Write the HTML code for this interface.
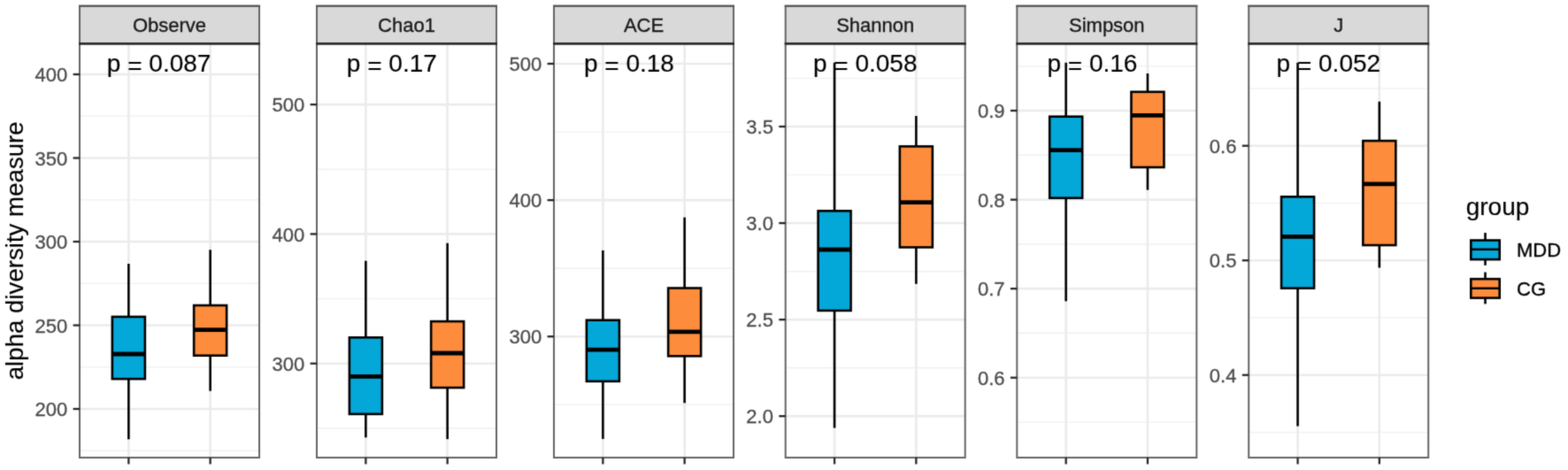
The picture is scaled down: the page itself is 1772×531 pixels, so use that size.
<!DOCTYPE html>
<html><head><meta charset="utf-8"><title>alpha diversity</title>
<style>
html,body{margin:0;padding:0;background:#fff;}
body{width:1772px;height:531px;overflow:hidden;}
svg{display:block;font-family:'Liberation Sans', Arial, Helvetica, sans-serif;}
</style></head>
<body>
<svg width="1772" height="531" viewBox="0 0 1772 531">
<rect x="0" y="0" width="1772" height="531" fill="#FFFFFF"/>
<defs><filter id="soft" x="0" y="0" width="1" height="1" filterUnits="objectBoundingBox" color-interpolation-filters="sRGB"><feConvolveMatrix order="3" kernelMatrix="0.02250 0.10500 0.02250 0.10500 0.49000 0.10500 0.02250 0.10500 0.02250" divisor="1" edgeMode="duplicate" preserveAlpha="true"/></filter></defs>
<g filter="url(#soft)">
<rect x="0" y="0" width="1772" height="531" fill="#FFFFFF"/>
<rect x="90" y="49.4" width="203" height="467.6" fill="#FFFFFF"/>
<line x1="90" y1="131.25" x2="293" y2="131.25" stroke="#F2F2F2" stroke-width="1.6"/>
<line x1="90" y1="225.75" x2="293" y2="225.75" stroke="#F2F2F2" stroke-width="1.6"/>
<line x1="90" y1="320.25" x2="293" y2="320.25" stroke="#F2F2F2" stroke-width="1.6"/>
<line x1="90" y1="414.75" x2="293" y2="414.75" stroke="#F2F2F2" stroke-width="1.6"/>
<line x1="90" y1="509.25" x2="293" y2="509.25" stroke="#F2F2F2" stroke-width="1.6"/>
<line x1="90" y1="84" x2="293" y2="84" stroke="#EBEBEB" stroke-width="2.6"/>
<line x1="90" y1="178.5" x2="293" y2="178.5" stroke="#EBEBEB" stroke-width="2.6"/>
<line x1="90" y1="273" x2="293" y2="273" stroke="#EBEBEB" stroke-width="2.6"/>
<line x1="90" y1="367.5" x2="293" y2="367.5" stroke="#EBEBEB" stroke-width="2.6"/>
<line x1="90" y1="462" x2="293" y2="462" stroke="#EBEBEB" stroke-width="2.6"/>
<line x1="145.36" y1="49.4" x2="145.36" y2="517" stroke="#EBEBEB" stroke-width="2.6"/>
<line x1="237.64" y1="49.4" x2="237.64" y2="517" stroke="#EBEBEB" stroke-width="2.6"/>
<line x1="145.36" y1="298" x2="145.36" y2="357.9" stroke="#000" stroke-width="2.6"/>
<line x1="145.36" y1="428.1" x2="145.36" y2="496.3" stroke="#000" stroke-width="2.6"/>
<rect x="126.86" y="357.9" width="37" height="70.2" fill="#03A8D9" stroke="#000" stroke-width="2.6"/>
<line x1="126.86" y1="400" x2="163.86" y2="400" stroke="#000" stroke-width="4.8"/>
<line x1="237.64" y1="282.2" x2="237.64" y2="345" stroke="#000" stroke-width="2.6"/>
<line x1="237.64" y1="401.7" x2="237.64" y2="441.7" stroke="#000" stroke-width="2.6"/>
<rect x="219.14" y="345" width="37" height="56.7" fill="#FD8D3C" stroke="#000" stroke-width="2.6"/>
<line x1="219.14" y1="372.7" x2="256.14" y2="372.7" stroke="#000" stroke-width="4.8"/>
<text x="120.85" y="81.1" font-size="28.0" fill="#000" stroke="#000" stroke-width="0.15">p <tspan dy="2.9">=</tspan><tspan dy="-2.9"> 0.087</tspan></text>
<rect x="90" y="6.8" width="203" height="42.6" fill="#D9D9D9"/>
<path d="M90 6.8 V517 H293 V6.8 Z" fill="none" stroke="#646464" stroke-width="2.0"/>
<line x1="89" y1="6.8" x2="294" y2="6.8" stroke="#555555" stroke-width="2"/>
<line x1="89" y1="49.4" x2="294" y2="49.4" stroke="#2B2B2B" stroke-width="2.6"/>
<text x="191.5" y="36.2" font-size="22" fill="#1A1A1A" stroke="#1A1A1A" stroke-width="0.35" text-anchor="middle">Observe</text>
<line x1="82.6" y1="84" x2="90" y2="84" stroke="#262626" stroke-width="2.3"/>
<text x="76.2" y="92.1" font-size="22" fill="#4D4D4D" stroke="#4D4D4D" stroke-width="0.35" text-anchor="end">400</text>
<line x1="82.6" y1="178.5" x2="90" y2="178.5" stroke="#262626" stroke-width="2.3"/>
<text x="76.2" y="186.6" font-size="22" fill="#4D4D4D" stroke="#4D4D4D" stroke-width="0.35" text-anchor="end">350</text>
<line x1="82.6" y1="273" x2="90" y2="273" stroke="#262626" stroke-width="2.3"/>
<text x="76.2" y="281.1" font-size="22" fill="#4D4D4D" stroke="#4D4D4D" stroke-width="0.35" text-anchor="end">300</text>
<line x1="82.6" y1="367.5" x2="90" y2="367.5" stroke="#262626" stroke-width="2.3"/>
<text x="76.2" y="375.6" font-size="22" fill="#4D4D4D" stroke="#4D4D4D" stroke-width="0.35" text-anchor="end">250</text>
<line x1="82.6" y1="462" x2="90" y2="462" stroke="#262626" stroke-width="2.3"/>
<text x="76.2" y="470.1" font-size="22" fill="#4D4D4D" stroke="#4D4D4D" stroke-width="0.35" text-anchor="end">200</text>
<line x1="145.36" y1="517" x2="145.36" y2="524.4" stroke="#262626" stroke-width="2.3"/>
<line x1="237.64" y1="517" x2="237.64" y2="524.4" stroke="#262626" stroke-width="2.3"/>
<rect x="358" y="49.4" width="203" height="467.6" fill="#FFFFFF"/>
<line x1="358" y1="191.25" x2="561" y2="191.25" stroke="#F2F2F2" stroke-width="1.6"/>
<line x1="358" y1="337.55" x2="561" y2="337.55" stroke="#F2F2F2" stroke-width="1.6"/>
<line x1="358" y1="483.85" x2="561" y2="483.85" stroke="#F2F2F2" stroke-width="1.6"/>
<line x1="358" y1="118.1" x2="561" y2="118.1" stroke="#EBEBEB" stroke-width="2.6"/>
<line x1="358" y1="264.4" x2="561" y2="264.4" stroke="#EBEBEB" stroke-width="2.6"/>
<line x1="358" y1="410.7" x2="561" y2="410.7" stroke="#EBEBEB" stroke-width="2.6"/>
<line x1="413.36" y1="49.4" x2="413.36" y2="517" stroke="#EBEBEB" stroke-width="2.6"/>
<line x1="505.64" y1="49.4" x2="505.64" y2="517" stroke="#EBEBEB" stroke-width="2.6"/>
<line x1="413.36" y1="294.7" x2="413.36" y2="381.3" stroke="#000" stroke-width="2.6"/>
<line x1="413.36" y1="467.8" x2="413.36" y2="494.3" stroke="#000" stroke-width="2.6"/>
<rect x="394.86" y="381.3" width="37" height="86.5" fill="#03A8D9" stroke="#000" stroke-width="2.6"/>
<line x1="394.86" y1="425.4" x2="431.86" y2="425.4" stroke="#000" stroke-width="4.8"/>
<line x1="505.64" y1="274.7" x2="505.64" y2="363.1" stroke="#000" stroke-width="2.6"/>
<line x1="505.64" y1="438" x2="505.64" y2="496.1" stroke="#000" stroke-width="2.6"/>
<rect x="487.14" y="363.1" width="37" height="74.9" fill="#FD8D3C" stroke="#000" stroke-width="2.6"/>
<line x1="487.14" y1="399" x2="524.14" y2="399" stroke="#000" stroke-width="4.8"/>
<text x="391.85" y="81.1" font-size="28.0" fill="#000" stroke="#000" stroke-width="0.15">p <tspan dy="2.9">=</tspan><tspan dy="-2.9"> 0.17</tspan></text>
<rect x="358" y="6.8" width="203" height="42.6" fill="#D9D9D9"/>
<path d="M358 6.8 V517 H561 V6.8 Z" fill="none" stroke="#646464" stroke-width="2.0"/>
<line x1="357" y1="6.8" x2="562" y2="6.8" stroke="#555555" stroke-width="2"/>
<line x1="357" y1="49.4" x2="562" y2="49.4" stroke="#2B2B2B" stroke-width="2.6"/>
<text x="459.5" y="36.2" font-size="22" fill="#1A1A1A" stroke="#1A1A1A" stroke-width="0.35" text-anchor="middle">Chao1</text>
<line x1="350.6" y1="118.1" x2="358" y2="118.1" stroke="#262626" stroke-width="2.3"/>
<text x="344.2" y="126.2" font-size="22" fill="#4D4D4D" stroke="#4D4D4D" stroke-width="0.35" text-anchor="end">500</text>
<line x1="350.6" y1="264.4" x2="358" y2="264.4" stroke="#262626" stroke-width="2.3"/>
<text x="344.2" y="272.5" font-size="22" fill="#4D4D4D" stroke="#4D4D4D" stroke-width="0.35" text-anchor="end">400</text>
<line x1="350.6" y1="410.7" x2="358" y2="410.7" stroke="#262626" stroke-width="2.3"/>
<text x="344.2" y="418.8" font-size="22" fill="#4D4D4D" stroke="#4D4D4D" stroke-width="0.35" text-anchor="end">300</text>
<line x1="413.36" y1="517" x2="413.36" y2="524.4" stroke="#262626" stroke-width="2.3"/>
<line x1="505.64" y1="517" x2="505.64" y2="524.4" stroke="#262626" stroke-width="2.3"/>
<rect x="626" y="49.4" width="203" height="467.6" fill="#FFFFFF"/>
<line x1="626" y1="149.05" x2="829" y2="149.05" stroke="#F2F2F2" stroke-width="1.6"/>
<line x1="626" y1="303.15" x2="829" y2="303.15" stroke="#F2F2F2" stroke-width="1.6"/>
<line x1="626" y1="457.25" x2="829" y2="457.25" stroke="#F2F2F2" stroke-width="1.6"/>
<line x1="626" y1="72" x2="829" y2="72" stroke="#EBEBEB" stroke-width="2.6"/>
<line x1="626" y1="226.1" x2="829" y2="226.1" stroke="#EBEBEB" stroke-width="2.6"/>
<line x1="626" y1="380.2" x2="829" y2="380.2" stroke="#EBEBEB" stroke-width="2.6"/>
<line x1="681.36" y1="49.4" x2="681.36" y2="517" stroke="#EBEBEB" stroke-width="2.6"/>
<line x1="773.64" y1="49.4" x2="773.64" y2="517" stroke="#EBEBEB" stroke-width="2.6"/>
<line x1="681.36" y1="282.9" x2="681.36" y2="361.7" stroke="#000" stroke-width="2.6"/>
<line x1="681.36" y1="430.8" x2="681.36" y2="495.9" stroke="#000" stroke-width="2.6"/>
<rect x="662.86" y="361.7" width="37" height="69.1" fill="#03A8D9" stroke="#000" stroke-width="2.6"/>
<line x1="662.86" y1="395.2" x2="699.86" y2="395.2" stroke="#000" stroke-width="4.8"/>
<line x1="773.64" y1="245.6" x2="773.64" y2="325.5" stroke="#000" stroke-width="2.6"/>
<line x1="773.64" y1="402.3" x2="773.64" y2="455.3" stroke="#000" stroke-width="2.6"/>
<rect x="755.14" y="325.5" width="37" height="76.8" fill="#FD8D3C" stroke="#000" stroke-width="2.6"/>
<line x1="755.14" y1="374.8" x2="792.14" y2="374.8" stroke="#000" stroke-width="4.8"/>
<text x="659.95" y="81.1" font-size="28.0" fill="#000" stroke="#000" stroke-width="0.15">p <tspan dy="2.9">=</tspan><tspan dy="-2.9"> 0.18</tspan></text>
<rect x="626" y="6.8" width="203" height="42.6" fill="#D9D9D9"/>
<path d="M626 6.8 V517 H829 V6.8 Z" fill="none" stroke="#646464" stroke-width="2.0"/>
<line x1="625" y1="6.8" x2="830" y2="6.8" stroke="#555555" stroke-width="2"/>
<line x1="625" y1="49.4" x2="830" y2="49.4" stroke="#2B2B2B" stroke-width="2.6"/>
<text x="727.5" y="36.2" font-size="22" fill="#1A1A1A" stroke="#1A1A1A" stroke-width="0.35" text-anchor="middle">ACE</text>
<line x1="618.6" y1="72" x2="626" y2="72" stroke="#262626" stroke-width="2.3"/>
<text x="612.2" y="80.1" font-size="22" fill="#4D4D4D" stroke="#4D4D4D" stroke-width="0.35" text-anchor="end">500</text>
<line x1="618.6" y1="226.1" x2="626" y2="226.1" stroke="#262626" stroke-width="2.3"/>
<text x="612.2" y="234.2" font-size="22" fill="#4D4D4D" stroke="#4D4D4D" stroke-width="0.35" text-anchor="end">400</text>
<line x1="618.6" y1="380.2" x2="626" y2="380.2" stroke="#262626" stroke-width="2.3"/>
<text x="612.2" y="388.3" font-size="22" fill="#4D4D4D" stroke="#4D4D4D" stroke-width="0.35" text-anchor="end">300</text>
<line x1="681.36" y1="517" x2="681.36" y2="524.4" stroke="#262626" stroke-width="2.3"/>
<line x1="773.64" y1="517" x2="773.64" y2="524.4" stroke="#262626" stroke-width="2.3"/>
<rect x="887.7" y="49.4" width="203" height="467.6" fill="#FFFFFF"/>
<line x1="887.7" y1="88.5" x2="1090.7" y2="88.5" stroke="#F2F2F2" stroke-width="1.6"/>
<line x1="887.7" y1="197.5" x2="1090.7" y2="197.5" stroke="#F2F2F2" stroke-width="1.6"/>
<line x1="887.7" y1="306.6" x2="1090.7" y2="306.6" stroke="#F2F2F2" stroke-width="1.6"/>
<line x1="887.7" y1="415.6" x2="1090.7" y2="415.6" stroke="#F2F2F2" stroke-width="1.6"/>
<line x1="887.7" y1="143" x2="1090.7" y2="143" stroke="#EBEBEB" stroke-width="2.6"/>
<line x1="887.7" y1="252.05" x2="1090.7" y2="252.05" stroke="#EBEBEB" stroke-width="2.6"/>
<line x1="887.7" y1="361.1" x2="1090.7" y2="361.1" stroke="#EBEBEB" stroke-width="2.6"/>
<line x1="887.7" y1="470.15" x2="1090.7" y2="470.15" stroke="#EBEBEB" stroke-width="2.6"/>
<line x1="943.06" y1="49.4" x2="943.06" y2="517" stroke="#EBEBEB" stroke-width="2.6"/>
<line x1="1035.34" y1="49.4" x2="1035.34" y2="517" stroke="#EBEBEB" stroke-width="2.6"/>
<line x1="943.06" y1="70.8" x2="943.06" y2="238.3" stroke="#000" stroke-width="2.6"/>
<line x1="943.06" y1="350.9" x2="943.06" y2="483.5" stroke="#000" stroke-width="2.6"/>
<rect x="924.56" y="238.3" width="37" height="112.6" fill="#03A8D9" stroke="#000" stroke-width="2.6"/>
<line x1="924.56" y1="282" x2="961.56" y2="282" stroke="#000" stroke-width="4.8"/>
<line x1="1035.34" y1="131" x2="1035.34" y2="165.4" stroke="#000" stroke-width="2.6"/>
<line x1="1035.34" y1="279.4" x2="1035.34" y2="320.8" stroke="#000" stroke-width="2.6"/>
<rect x="1016.84" y="165.4" width="37" height="114" fill="#FD8D3C" stroke="#000" stroke-width="2.6"/>
<line x1="1016.84" y1="228.6" x2="1053.84" y2="228.6" stroke="#000" stroke-width="4.8"/>
<text x="918.95" y="81.1" font-size="28.0" fill="#000" stroke="#000" stroke-width="0.15">p <tspan dy="2.9">=</tspan><tspan dy="-2.9"> 0.058</tspan></text>
<rect x="887.7" y="6.8" width="203" height="42.6" fill="#D9D9D9"/>
<path d="M887.7 6.8 V517 H1090.7 V6.8 Z" fill="none" stroke="#646464" stroke-width="2.0"/>
<line x1="886.7" y1="6.8" x2="1091.7" y2="6.8" stroke="#555555" stroke-width="2"/>
<line x1="886.7" y1="49.4" x2="1091.7" y2="49.4" stroke="#2B2B2B" stroke-width="2.6"/>
<text x="989.2" y="36.2" font-size="22" fill="#1A1A1A" stroke="#1A1A1A" stroke-width="0.35" text-anchor="middle">Shannon</text>
<line x1="880.3" y1="143" x2="887.7" y2="143" stroke="#262626" stroke-width="2.3"/>
<text x="873.9" y="151.1" font-size="22" fill="#4D4D4D" stroke="#4D4D4D" stroke-width="0.35" text-anchor="end">3.5</text>
<line x1="880.3" y1="252.05" x2="887.7" y2="252.05" stroke="#262626" stroke-width="2.3"/>
<text x="873.9" y="260.15" font-size="22" fill="#4D4D4D" stroke="#4D4D4D" stroke-width="0.35" text-anchor="end">3.0</text>
<line x1="880.3" y1="361.1" x2="887.7" y2="361.1" stroke="#262626" stroke-width="2.3"/>
<text x="873.9" y="369.2" font-size="22" fill="#4D4D4D" stroke="#4D4D4D" stroke-width="0.35" text-anchor="end">2.5</text>
<line x1="880.3" y1="470.15" x2="887.7" y2="470.15" stroke="#262626" stroke-width="2.3"/>
<text x="873.9" y="478.25" font-size="22" fill="#4D4D4D" stroke="#4D4D4D" stroke-width="0.35" text-anchor="end">2.0</text>
<line x1="943.06" y1="517" x2="943.06" y2="524.4" stroke="#262626" stroke-width="2.3"/>
<line x1="1035.34" y1="517" x2="1035.34" y2="524.4" stroke="#262626" stroke-width="2.3"/>
<rect x="1149.3" y="49.4" width="203" height="467.6" fill="#FFFFFF"/>
<line x1="1149.3" y1="74.7" x2="1352.3" y2="74.7" stroke="#F2F2F2" stroke-width="1.6"/>
<line x1="1149.3" y1="175.3" x2="1352.3" y2="175.3" stroke="#F2F2F2" stroke-width="1.6"/>
<line x1="1149.3" y1="275.85" x2="1352.3" y2="275.85" stroke="#F2F2F2" stroke-width="1.6"/>
<line x1="1149.3" y1="376.4" x2="1352.3" y2="376.4" stroke="#F2F2F2" stroke-width="1.6"/>
<line x1="1149.3" y1="477" x2="1352.3" y2="477" stroke="#F2F2F2" stroke-width="1.6"/>
<line x1="1149.3" y1="125" x2="1352.3" y2="125" stroke="#EBEBEB" stroke-width="2.6"/>
<line x1="1149.3" y1="225.6" x2="1352.3" y2="225.6" stroke="#EBEBEB" stroke-width="2.6"/>
<line x1="1149.3" y1="326.1" x2="1352.3" y2="326.1" stroke="#EBEBEB" stroke-width="2.6"/>
<line x1="1149.3" y1="426.7" x2="1352.3" y2="426.7" stroke="#EBEBEB" stroke-width="2.6"/>
<line x1="1204.66" y1="49.4" x2="1204.66" y2="517" stroke="#EBEBEB" stroke-width="2.6"/>
<line x1="1296.94" y1="49.4" x2="1296.94" y2="517" stroke="#EBEBEB" stroke-width="2.6"/>
<line x1="1204.66" y1="70.8" x2="1204.66" y2="131.7" stroke="#000" stroke-width="2.6"/>
<line x1="1204.66" y1="223.7" x2="1204.66" y2="340.3" stroke="#000" stroke-width="2.6"/>
<rect x="1186.16" y="131.7" width="37" height="92" fill="#03A8D9" stroke="#000" stroke-width="2.6"/>
<line x1="1186.16" y1="169.7" x2="1223.16" y2="169.7" stroke="#000" stroke-width="4.8"/>
<line x1="1296.94" y1="83" x2="1296.94" y2="103.8" stroke="#000" stroke-width="2.6"/>
<line x1="1296.94" y1="189" x2="1296.94" y2="214.6" stroke="#000" stroke-width="2.6"/>
<rect x="1278.44" y="103.8" width="37" height="85.2" fill="#FD8D3C" stroke="#000" stroke-width="2.6"/>
<line x1="1278.44" y1="130.4" x2="1315.44" y2="130.4" stroke="#000" stroke-width="4.8"/>
<text x="1183.45" y="81.1" font-size="28.0" fill="#000" stroke="#000" stroke-width="0.15">p <tspan dy="2.9">=</tspan><tspan dy="-2.9"> 0.16</tspan></text>
<rect x="1149.3" y="6.8" width="203" height="42.6" fill="#D9D9D9"/>
<path d="M1149.3 6.8 V517 H1352.3 V6.8 Z" fill="none" stroke="#646464" stroke-width="2.0"/>
<line x1="1148.3" y1="6.8" x2="1353.3" y2="6.8" stroke="#555555" stroke-width="2"/>
<line x1="1148.3" y1="49.4" x2="1353.3" y2="49.4" stroke="#2B2B2B" stroke-width="2.6"/>
<text x="1250.8" y="36.2" font-size="22" fill="#1A1A1A" stroke="#1A1A1A" stroke-width="0.35" text-anchor="middle">Simpson</text>
<line x1="1141.9" y1="125" x2="1149.3" y2="125" stroke="#262626" stroke-width="2.3"/>
<text x="1135.5" y="133.1" font-size="22" fill="#4D4D4D" stroke="#4D4D4D" stroke-width="0.35" text-anchor="end">0.9</text>
<line x1="1141.9" y1="225.6" x2="1149.3" y2="225.6" stroke="#262626" stroke-width="2.3"/>
<text x="1135.5" y="233.7" font-size="22" fill="#4D4D4D" stroke="#4D4D4D" stroke-width="0.35" text-anchor="end">0.8</text>
<line x1="1141.9" y1="326.1" x2="1149.3" y2="326.1" stroke="#262626" stroke-width="2.3"/>
<text x="1135.5" y="334.2" font-size="22" fill="#4D4D4D" stroke="#4D4D4D" stroke-width="0.35" text-anchor="end">0.7</text>
<line x1="1141.9" y1="426.7" x2="1149.3" y2="426.7" stroke="#262626" stroke-width="2.3"/>
<text x="1135.5" y="434.8" font-size="22" fill="#4D4D4D" stroke="#4D4D4D" stroke-width="0.35" text-anchor="end">0.6</text>
<line x1="1204.66" y1="517" x2="1204.66" y2="524.4" stroke="#262626" stroke-width="2.3"/>
<line x1="1296.94" y1="517" x2="1296.94" y2="524.4" stroke="#262626" stroke-width="2.3"/>
<rect x="1411.2" y="49.4" width="203" height="467.6" fill="#FFFFFF"/>
<line x1="1411.2" y1="99.95" x2="1614.2" y2="99.95" stroke="#F2F2F2" stroke-width="1.6"/>
<line x1="1411.2" y1="229.45" x2="1614.2" y2="229.45" stroke="#F2F2F2" stroke-width="1.6"/>
<line x1="1411.2" y1="358.95" x2="1614.2" y2="358.95" stroke="#F2F2F2" stroke-width="1.6"/>
<line x1="1411.2" y1="488.45" x2="1614.2" y2="488.45" stroke="#F2F2F2" stroke-width="1.6"/>
<line x1="1411.2" y1="164.7" x2="1614.2" y2="164.7" stroke="#EBEBEB" stroke-width="2.6"/>
<line x1="1411.2" y1="294.2" x2="1614.2" y2="294.2" stroke="#EBEBEB" stroke-width="2.6"/>
<line x1="1411.2" y1="423.7" x2="1614.2" y2="423.7" stroke="#EBEBEB" stroke-width="2.6"/>
<line x1="1466.56" y1="49.4" x2="1466.56" y2="517" stroke="#EBEBEB" stroke-width="2.6"/>
<line x1="1558.84" y1="49.4" x2="1558.84" y2="517" stroke="#EBEBEB" stroke-width="2.6"/>
<line x1="1466.56" y1="70.8" x2="1466.56" y2="222.3" stroke="#000" stroke-width="2.6"/>
<line x1="1466.56" y1="325.6" x2="1466.56" y2="481.5" stroke="#000" stroke-width="2.6"/>
<rect x="1448.06" y="222.3" width="37" height="103.3" fill="#03A8D9" stroke="#000" stroke-width="2.6"/>
<line x1="1448.06" y1="267.3" x2="1485.06" y2="267.3" stroke="#000" stroke-width="4.8"/>
<line x1="1558.84" y1="114.7" x2="1558.84" y2="159.1" stroke="#000" stroke-width="2.6"/>
<line x1="1558.84" y1="277" x2="1558.84" y2="302.5" stroke="#000" stroke-width="2.6"/>
<rect x="1540.34" y="159.1" width="37" height="117.9" fill="#FD8D3C" stroke="#000" stroke-width="2.6"/>
<line x1="1540.34" y1="207.8" x2="1577.34" y2="207.8" stroke="#000" stroke-width="4.8"/>
<text x="1442.55" y="81.1" font-size="28.0" fill="#000" stroke="#000" stroke-width="0.15">p <tspan dy="2.9">=</tspan><tspan dy="-2.9"> 0.052</tspan></text>
<rect x="1411.2" y="6.8" width="203" height="42.6" fill="#D9D9D9"/>
<path d="M1411.2 6.8 V517 H1614.2 V6.8 Z" fill="none" stroke="#646464" stroke-width="2.0"/>
<line x1="1410.2" y1="6.8" x2="1615.2" y2="6.8" stroke="#555555" stroke-width="2"/>
<line x1="1410.2" y1="49.4" x2="1615.2" y2="49.4" stroke="#2B2B2B" stroke-width="2.6"/>
<text x="1512.7" y="36.2" font-size="22" fill="#1A1A1A" stroke="#1A1A1A" stroke-width="0.35" text-anchor="middle">J</text>
<line x1="1403.8" y1="164.7" x2="1411.2" y2="164.7" stroke="#262626" stroke-width="2.3"/>
<text x="1397.4" y="172.8" font-size="22" fill="#4D4D4D" stroke="#4D4D4D" stroke-width="0.35" text-anchor="end">0.6</text>
<line x1="1403.8" y1="294.2" x2="1411.2" y2="294.2" stroke="#262626" stroke-width="2.3"/>
<text x="1397.4" y="302.3" font-size="22" fill="#4D4D4D" stroke="#4D4D4D" stroke-width="0.35" text-anchor="end">0.5</text>
<line x1="1403.8" y1="423.7" x2="1411.2" y2="423.7" stroke="#262626" stroke-width="2.3"/>
<text x="1397.4" y="431.8" font-size="22" fill="#4D4D4D" stroke="#4D4D4D" stroke-width="0.35" text-anchor="end">0.4</text>
<line x1="1466.56" y1="517" x2="1466.56" y2="524.4" stroke="#262626" stroke-width="2.3"/>
<line x1="1558.84" y1="517" x2="1558.84" y2="524.4" stroke="#262626" stroke-width="2.3"/>
<text x="0" y="0" font-size="27.65" fill="#000" stroke="#000" stroke-width="0.15" text-anchor="middle" transform="translate(26.0 283.3) rotate(-90)">alpha diversity measure</text>
<text x="1656.66" y="243" font-size="28" fill="#000" stroke="#000" stroke-width="0.15">group</text>
<line x1="1678.5" y1="263" x2="1678.5" y2="271.5" stroke="#000" stroke-width="2.6"/>
<line x1="1678.5" y1="293.1" x2="1678.5" y2="299.8" stroke="#000" stroke-width="2.6"/>
<rect x="1662.3" y="271.5" width="32.4" height="21.6" fill="#03A8D9" stroke="#000" stroke-width="2.6"/>
<line x1="1662.3" y1="281.7" x2="1694.7" y2="281.7" stroke="#000" stroke-width="2.6"/>
<text x="1714" y="290.1" font-size="22" fill="#000" stroke="#000" stroke-width="0.35">MDD</text>
<line x1="1678.5" y1="307.5" x2="1678.5" y2="315.2" stroke="#000" stroke-width="2.6"/>
<line x1="1678.5" y1="336.6" x2="1678.5" y2="343.4" stroke="#000" stroke-width="2.6"/>
<rect x="1662.3" y="315.2" width="32.4" height="21.4" fill="#FD8D3C" stroke="#000" stroke-width="2.6"/>
<line x1="1662.3" y1="325.8" x2="1694.7" y2="325.8" stroke="#000" stroke-width="2.6"/>
<text x="1714" y="333.9" font-size="22" fill="#000" stroke="#000" stroke-width="0.35">CG</text>
</g>
</svg>
</body></html>
